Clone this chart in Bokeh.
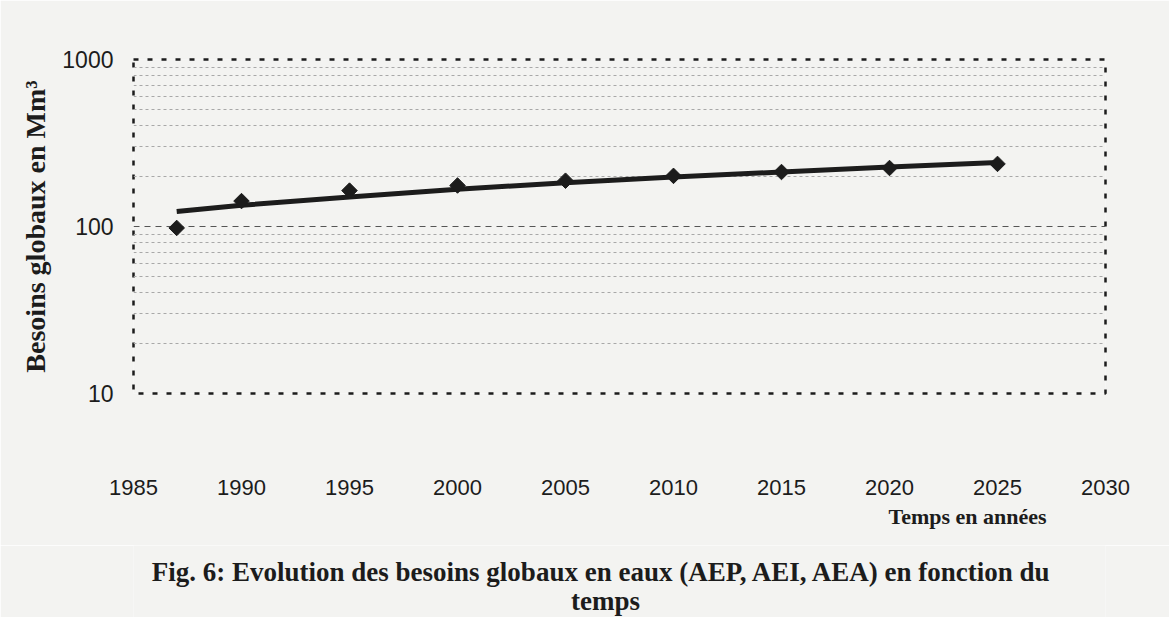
from bokeh.plotting import figure
from bokeh.models import FixedTicker, Title
from bokeh.layouts import column
from bokeh.core.properties import value
from bokeh.embed import file_html
from bokeh.resources import INLINE
import numpy as np

# --- data ---
annees = [1987, 1990, 1995, 2000, 2005, 2010, 2015, 2020, 2025]
besoins = [98, 142, 164, 176, 188, 201, 212, 224, 237]

tendance_annees = [1987, 1990, 1995, 2000, 2005, 2010, 2015, 2020, 2025]
tendance_valeurs = [123, 134, 150, 167, 183, 198, 212, 227, 242]

x_ticks = [1985, 1990, 1995, 2000, 2005, 2010, 2015, 2020, 2025, 2030]
y_ticks = [10, 100, 1000]
y_labels = ["10", "100", "1000"]
y_minor = [20, 30, 40, 50, 60, 70, 80, 90, 200, 300, 400, 500, 600, 700, 800, 900]

titre_y = "Besoins globaux en Mm\u00b3"
titre_x = "Temps en ann\u00e9es"
legende = ["Fig. 6: Evolution des besoins globaux en eaux  (AEP, AEI, AEA) en fonction du",
           "temps"]

BG = "#f3f3f1"
INK = "#1c1c1c"
SERIF = "Liberation Serif"
W = 1169
LEFT, RIGHT = 133, 64

p = figure(width=W, height=545, x_range=(1985, 2030), y_range=(10, 1000),
           y_axis_type="log", output_backend="svg", toolbar_location=None,
           min_border_left=LEFT, min_border_right=RIGHT, min_border_top=59,
           min_border_bottom=152)

p.background_fill_color = BG
p.border_fill_color = BG
p.outline_line_color = INK
p.outline_line_width = 2.5
p.outline_line_dash = "5 9"

# y axis
yt = FixedTicker(ticks=y_ticks, minor_ticks=y_minor)
p.yaxis.ticker = yt
p.ygrid.ticker = yt
p.yaxis.major_label_overrides = {t: l for t, l in zip(y_ticks, y_labels)}
p.yaxis.axis_line_color = None
p.yaxis.major_tick_line_color = None
p.yaxis.minor_tick_line_color = None
p.yaxis.major_tick_out = 0
p.yaxis.minor_tick_out = 0
p.yaxis.major_label_standoff = 20
p.yaxis.major_label_text_font = "Liberation Sans"
p.yaxis.major_label_text_font_size = "23px"
p.yaxis.major_label_text_color = INK
p.yaxis.axis_label = titre_y
p.yaxis.axis_label_text_font = SERIF
p.yaxis.axis_label_text_font_style = "bold"
p.yaxis.axis_label_text_font_size = "28px"
p.yaxis.axis_label_text_color = INK
p.yaxis.axis_label_standoff = 8

p.ygrid.grid_line_color = "#555555"
p.ygrid.grid_line_dash = "6 5"
p.ygrid.grid_line_width = 1.2
p.ygrid.minor_grid_line_color = "#a8a8a8"
p.ygrid.minor_grid_line_dash = "3 3"
p.ygrid.minor_grid_line_width = 1
p.xgrid.visible = False

# x axis
xt = FixedTicker(ticks=x_ticks)
p.xaxis.ticker = xt
p.xaxis.axis_line_color = None
p.xaxis.major_tick_line_color = None
p.xaxis.minor_tick_line_color = None
p.xaxis.major_tick_out = 0
p.xaxis.minor_tick_out = 0
p.xaxis.major_label_standoff = 86
p.xaxis.major_label_text_font = "Liberation Sans"
p.xaxis.major_label_text_font_size = "22px"
p.xaxis.major_label_text_color = INK

# data
p.line(tendance_annees, tendance_valeurs, line_color=INK, line_width=5)
p.scatter(annees, besoins, marker="square", angle=np.pi / 4, size=11,
          fill_color=INK, line_color=INK)

# x axis title
tx = Title(text=titre_x, align="left", offset=755, text_font=SERIF,
           text_font_style="bold", text_font_size="22px", text_color=INK,
           standoff=8)
p.add_layout(tx, "below")

# caption below the chart (frame aligned with the main chart's frame)
FW = W - LEFT - RIGHT
cap = figure(width=W, height=72, x_range=(0, FW), y_range=(0, 72),
             x_axis_type=None, y_axis_type=None, output_backend="svg",
             toolbar_location=None, min_border_left=LEFT,
             min_border_right=RIGHT, min_border_top=0, min_border_bottom=0)
cap.background_fill_color = BG
cap.border_fill_color = BG
cap.outline_line_color = None
cap.grid.visible = False
cap.text(x=[472, 472], y=[46, 17], text=legende, text_align="center",
         text_baseline="middle", text_font=value(SERIF), text_font_style="bold",
         text_font_size="27px", text_color=INK)

layout = column(p, cap, spacing=0)
open("out.html", "w").write(file_html(layout, INLINE))
